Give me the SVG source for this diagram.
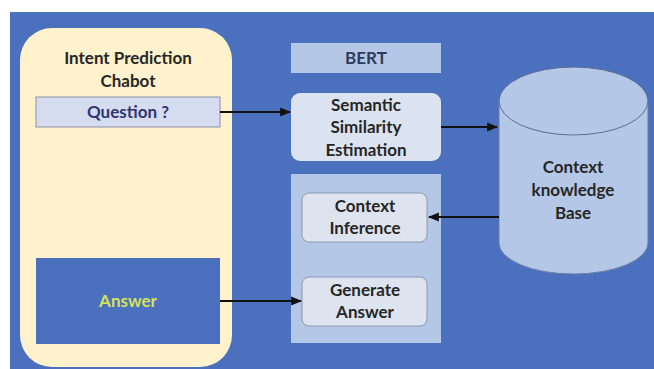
<svg xmlns="http://www.w3.org/2000/svg" width="654" height="369" viewBox="0 0 654 369">
<defs>
<marker id="ah" viewBox="0 0 10 10" refX="9" refY="5" markerWidth="5" markerHeight="5" orient="auto" markerUnits="strokeWidth">
<path d="M0,1 L10,5 L0,9 z" fill="#111"/>
</marker>
<style>
.t{font-family:Lato,"Liberation Sans",Arial,sans-serif;font-weight:bold;font-size:17px;text-anchor:middle;fill:#262626}
.conn line{stroke:#111;stroke-width:2.2;marker-end:url(#ah)}
.panel{fill:#B4C7E7}
.inner{fill:#DDE3EF;stroke:#8C97AE;stroke-width:1}
</style>
</defs>
<rect x="0" y="0" width="654" height="369" fill="#ffffff"/>
<rect x="10" y="12" width="644" height="357" fill="#4A70BE"/>
<g id="chatbot">
<rect x="20" y="28" width="212" height="339" rx="32" fill="#FFF2CC"/>
<text class="t" x="128" y="64">Intent Prediction</text>
<text class="t" x="128" y="87">Chabot</text>
</g>
<g id="question">
<rect x="36" y="97" width="184" height="30" fill="#D6DCF0" stroke="#8A8FA8" stroke-width="1"/>
<text class="t" x="128" y="118" style="fill:#2F3570">Question ?</text>
</g>
<g id="answer">
<rect x="36" y="258" width="184" height="86" fill="#4A70BE"/>
<text class="t" x="128" y="307" style="fill:#D4E35A">Answer</text>
</g>
<g id="bert">
<rect class="panel" x="291" y="43" width="150" height="30"/>
<text class="t" x="366" y="64" style="fill:#2F3A5C">BERT</text>
</g>
<g id="semantic">
<rect x="291" y="93" width="150" height="68" rx="9" fill="#DCE3F0"/>
<text class="t" x="366" y="111">Semantic</text>
<text class="t" x="366" y="133">Similarity</text>
<text class="t" x="366" y="156">Estimation</text>
</g>
<g id="lower-panel">
<rect class="panel" x="291" y="174" width="150" height="169"/>
</g>
<g id="context-inference">
<rect class="inner" x="302" y="193" width="125" height="49" rx="7"/>
<text class="t" x="365" y="212">Context</text>
<text class="t" x="365" y="234">Inference</text>
</g>
<g id="generate-answer">
<rect class="inner" x="302" y="277" width="125" height="49" rx="7"/>
<text class="t" x="365" y="296">Generate</text>
<text class="t" x="365" y="318">Answer</text>
</g>
<g id="knowledge-base">
<path d="M499,102 L499,243 A74.5,31 0 0 0 648,243 L648,102" fill="#B4C7E7" stroke="#6A7FA8" stroke-width="1"/>
<ellipse cx="573.5" cy="101" rx="74.5" ry="34" fill="#B4C7E7" stroke="#5A6C94" stroke-width="1"/>
<text class="t" x="573" y="173">Context</text>
<text class="t" x="573" y="196">knowledge</text>
<text class="t" x="573" y="219">Base</text>
</g>
<g id="connectors" class="conn">
<line x1="220" y1="112" x2="290" y2="112"/>
<line x1="441" y1="127" x2="497" y2="127"/>
<line x1="499" y1="217" x2="429" y2="217"/>
<line x1="220" y1="301" x2="301" y2="301"/>
</g>
</svg>
